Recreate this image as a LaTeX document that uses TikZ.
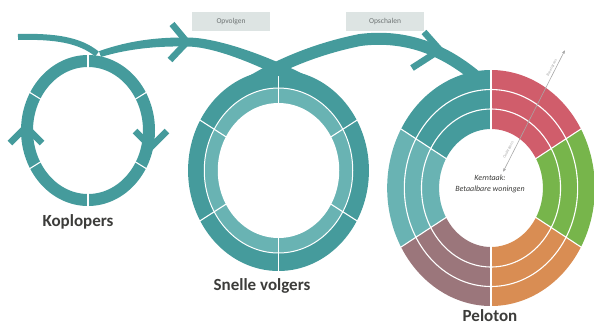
\documentclass[tikz,border=0pt]{standalone}
\usepackage{fontspec}
\setmainfont{Carlito}
\usetikzlibrary{arrows.meta,calc}
\definecolor{tealA}{HTML}{459B9C}
\definecolor{tealL}{HTML}{69B3B3}
\definecolor{pred}{HTML}{D05D6B}
\definecolor{pgreen}{HTML}{77B54B}
\definecolor{porange}{HTML}{D98D53}
\definecolor{pmauve}{HTML}{9B767B}
\definecolor{boxgray}{HTML}{DDE4E3}
\definecolor{labtext}{HTML}{3C3C3A}
\definecolor{smalltext}{HTML}{6E7474}
\definecolor{axgray}{HTML}{A8A8A8}
\tikzset{
  chev/.style={draw=tealA, line width=6.5pt, line join=miter, line cap=butt},
  flow/.style={draw=tealA, line cap=butt},
  divider/.style={draw=white, line width=1.1pt},
  lbox/.style={fill=boxgray, minimum width=78pt, minimum height=19pt, inner sep=0pt, text=smalltext, font=\fontsize{7.5}{9}\selectfont},
  title/.style={text=labtext, font=\bfseries\fontsize{17}{20}\selectfont, inner sep=0pt},
  axlbl/.style={text=axgray, font=\fontsize{4}{5}\selectfont, inner sep=0pt, rotate=63},
  axline/.style={draw=axgray, line width=0.6pt, {Latex[length=3.5pt,width=3pt]}-{Latex[length=3.5pt,width=3pt]}}
}
\begin{document}
\begin{tikzpicture}[x=1pt,y=-1pt]
\useasboundingbox (0,0) rectangle (594,325);
\coordinate (kc) at (88,130.5);
\coordinate (sc) at (278.5,170.5);
\coordinate (pc) at (491,188);
\def\pxs{0.88}
\def\sxs{0.9}

% incoming flow
\coordinate (in0) at (18,37);
\coordinate (in1) at (97,54);
\draw[flow, line width=6pt] (in0) .. controls (55,36) and (80,40) .. (in1);

% Koplopers ring
\draw[tealA, line width=12pt] (kc) ellipse[x radius=61, y radius=69.5];
\foreach \a in {30,90,150,210,270,330}{
  \draw[divider] ($(kc)+({54*cos(\a)},{-62*sin(\a)})$) -- ($(kc)+({68*cos(\a)},{-77*sin(\a)})$);
}
\draw[chev] (10,143) -- (26,127) -- (42,143);
\draw[chev] (135,131) -- (151,147) -- (167,131);

% Snelle volgers ring
\fill[tealA] (sc) ellipse[x radius=\sxs*100.5, y radius=100.5];
\fill[tealL] (sc) ellipse[x radius=\sxs*82.5, y radius=82.5];
\fill[white] (sc) ellipse[x radius=\sxs*67.5, y radius=67.5];
\draw[white, line width=1pt] (sc) ellipse[x radius=\sxs*82.5, y radius=82.5];
\foreach \a in {30,90,150,210,270,330}{
  \draw[divider] ($(sc)+({\sxs*66*cos(\a)},{-66*sin(\a)})$) -- ($(sc)+({\sxs*102*cos(\a)},{-102*sin(\a)})$);
}

% Opvolgen flow (tapered)
\fill[tealA] (99,51.2) .. controls (130,40) and (160,37.2) .. (187,37.5)
  .. controls (229,37.5) and (306.6,72.2) .. (330.3,90.5)
  -- (321.7,101.5) .. controls (298,83.2) and (225,46.5) .. (187,46.5)
  .. controls (160,46) and (131,48) .. (101,56.9) -- cycle;
\draw[chev] (172,24) -- (187,42) -- (170,60);

% Opschalen flow
\coordinate (b0) at (231.2,95.5);
\coordinate (b1) at (360,40);
\coordinate (b2) at (480,80);
\draw[flow, line width=12pt] (b0) .. controls (255,77) and (300,52) .. (b1)
  .. controls (400,35) and (440,45) .. (b2);
\draw[chev] (424,32) -- (440,50) -- (412,68);

% Peloton
\foreach \a/\b/\c in {90/150/tealA, 30/90/pred, -30/30/pgreen, -90/-30/porange, -150/-90/pmauve, 150/210/tealL}{
  \fill[\c] ($(pc)+({\pxs*118*cos(\a)},{-118*sin(\a)})$)
    arc[start angle={-(\a)}, end angle={-(\b)}, x radius=\pxs*118, y radius=118]
    -- ($(pc)+({\pxs*59*cos(\b)},{-59*sin(\b)})$)
    arc[start angle={-(\b)}, end angle={-(\a)}, x radius=\pxs*59, y radius=59] -- cycle;
}
\draw[white, line width=1.1pt] (pc) ellipse[x radius=\pxs*79, y radius=79];
\draw[white, line width=1.1pt] (pc) ellipse[x radius=\pxs*98.5, y radius=98.5];
\foreach \a in {30,90,150,210,270,330}{
  \draw[divider] ($(pc)+({\pxs*58*cos(\a)},{-58*sin(\a)})$) -- ($(pc)+({\pxs*120*cos(\a)},{-120*sin(\a)})$);
}

% axis
\coordinate (ax1) at (503,172);
\coordinate (ax2) at (565,50);
\draw[axline] (ax1) -- (ax2);
\node[axlbl] (ond) at (508.5,150) {Ondergrens};
\node[axlbl] (bov) at (552,68) {Bovengrens};

% texts
\node[lbox] (opv) at (231,21.5) {Opvolgen};
\node[lbox] (ops) at (385,21) {Opschalen};
\node[title] (kop) at (78,222) {Koplopers};
\node[title] (snv) at (262,286) {Snelle volgers};
\node[title] (pel) at (490,316) {Peloton};
\node[text=labtext, align=center, font=\itshape\fontsize{8}{10.5}\selectfont, inner sep=0pt] (kern) at (490,184) {Kerntaak:\\Betaalbare woningen};
\end{tikzpicture}
\end{document}
